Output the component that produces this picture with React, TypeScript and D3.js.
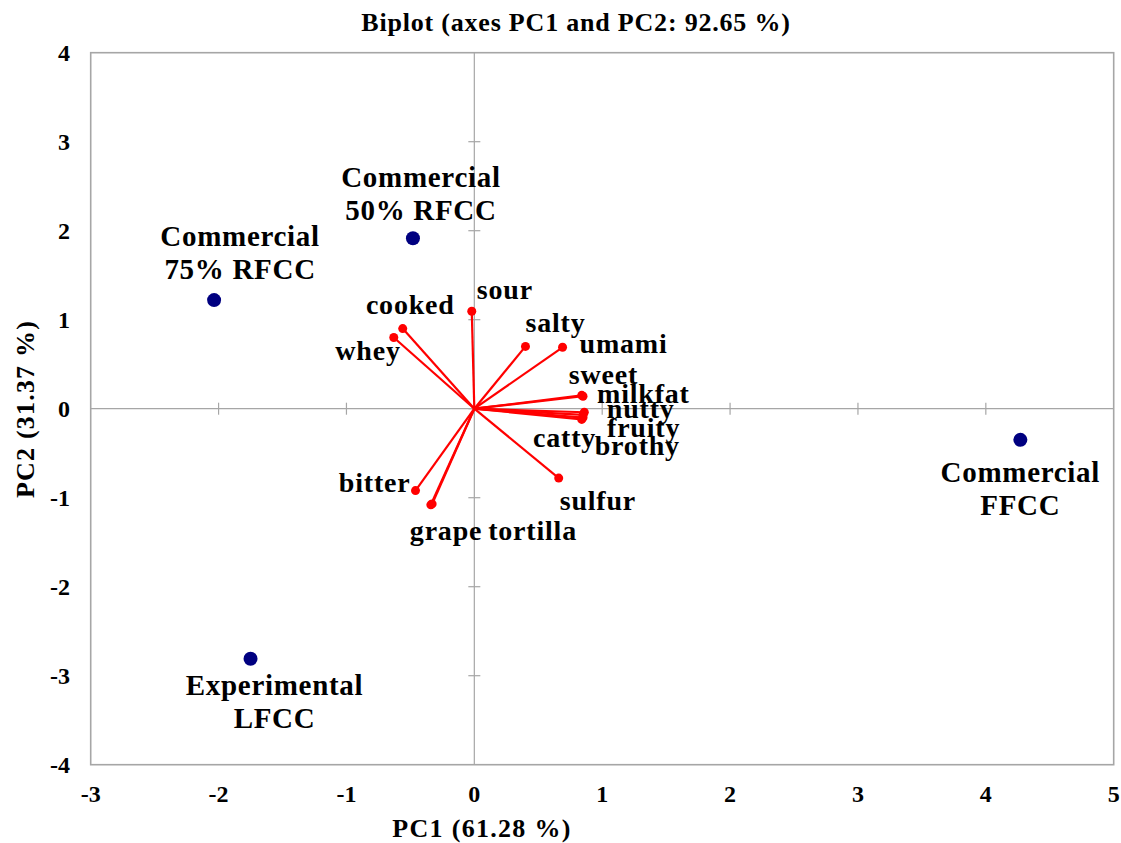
import React from "react";
import * as d3 from "d3";

// ---- data ----
const variableNames = ["sour", "cooked", "whey", "salty", "umami", "sweet", "milkfat", "nutty", "catty", "fruity", "brothy", "sulfur", "bitter", "grape", "tortilla"];
const variablePC1 = [-0.02, -0.56, -0.63, 0.40, 0.69, 0.84, 0.85, 0.86, 0.85, 0.85, 0.84, 0.66, -0.46, -0.34, -0.33];
const variablePC2 = [1.095, 0.90, 0.80, 0.70, 0.69, 0.15, 0.14, -0.04, -0.07, -0.10, -0.12, -0.78, -0.92, -1.08, -1.07];

const observationLines = [["Commercial", "50% RFCC"], ["Commercial", "75% RFCC"], ["Commercial", "FFCC"], ["Experimental", "LFCC"]];
const observationPC1 = [-0.48, -2.035, 4.27, -1.75];
const observationPC2 = [1.915, 1.22, -0.35, -2.81];

const xTicks = [-3, -2, -1, 0, 1, 2, 3, 4, 5];
const yTicks = [-4, -3, -2, -1, 0, 1, 2, 3, 4];

const title = "Biplot (axes PC1 and PC2: 92.65 %)";
const xTitle = "PC1 (61.28 %)";
const yTitle = "PC2 (31.37 %)";

// ---- layout (label placement relative to each mark, in px) ----
const varLabelLayout: Record<string, { dx: number; dy: number; anchor: string }> = {
  sour: { dx: 5, dy: -12, anchor: "start" },
  cooked: { dx: 52, dy: -15, anchor: "end" },
  whey: { dx: 7, dy: 22.5, anchor: "end" },
  salty: { dx: 0, dy: -14.5, anchor: "start" },
  umami: { dx: 17, dy: 5.5, anchor: "start" },
  sweet: { dx: -13, dy: -11, anchor: "start" },
  milkfat: { dx: 14, dy: 6.5, anchor: "start" },
  nutty: { dx: 22.5, dy: 6, anchor: "start" },
  catty: { dx: -50, dy: 32, anchor: "start" },
  fruity: { dx: 24, dy: 19, anchor: "start" },
  brothy: { dx: 13, dy: 35.6, anchor: "start" },
  sulfur: { dx: 1, dy: 32, anchor: "start" },
  bitter: { dx: -5, dy: 1.5, anchor: "end" },
  grape: { dx: -21, dy: 35, anchor: "start" },
  tortilla: { dx: 56, dy: 36, anchor: "start" },
};
const obsLabelLayout = [
  { dx: 8, dy: -51 },
  { dx: 26, dy: -54 },
  { dx: 0, dy: 42 },
  { dx: 24, dy: 36 },
];

const W = 1121;
const H = 843;
const plot = { left: 90.7, right: 1113.7, top: 52.7, bottom: 764.7 };
const FONT = "'Liberation Serif', 'Times New Roman', serif";

export default function App() {
  const x = d3.scaleLinear().domain([-3, 5]).range([plot.left, plot.right]);
  const y = d3.scaleLinear().domain([-4, 4]).range([plot.bottom, plot.top]);
  const gray = "#a6a6a6";
  const x0 = x(0);
  const y0 = y(0);

  return (
    <svg
      width={W}
      height={H}
      style={{ position: "absolute", left: 0, top: 0, background: "#fff" }}
      fontFamily={FONT}
      fontWeight="bold"
    >
      <rect x={0} y={0} width={W} height={H} fill="#fff" />
      {/* plot border */}
      <rect
        x={plot.left}
        y={plot.top}
        width={plot.right - plot.left}
        height={plot.bottom - plot.top}
        fill="none"
        stroke={gray}
        strokeWidth={1.6}
      />
      {/* zero axes */}
      <line x1={plot.left} x2={plot.right} y1={y0} y2={y0} stroke={gray} strokeWidth={1.2} />
      <line x1={x0} x2={x0} y1={plot.top} y2={plot.bottom} stroke={gray} strokeWidth={1.2} />
      {xTicks.filter((t) => t > -3 && t < 5).map((t) => (
        <line key={"xt" + t} x1={x(t)} x2={x(t)} y1={y0 - 6} y2={y0 + 6} stroke={gray} strokeWidth={1.2} />
      ))}
      {yTicks.filter((t) => t > -4 && t < 4).map((t) => (
        <line key={"yt" + t} x1={x0 - 6} x2={x0 + 6} y1={y(t)} y2={y(t)} stroke={gray} strokeWidth={1.2} />
      ))}

      {/* tick labels */}
      {xTicks.map((t) => (
        <text key={"xl" + t} x={x(t)} y={802} textAnchor="middle" fontSize={24}>
          {t < 0 ? "-" + Math.abs(t) : String(t)}
        </text>
      ))}
      {yTicks.map((t) => (
        <text key={"yl" + t} x={70} y={y(t)} dy="0.35em" textAnchor="end" fontSize={24}>
          {t < 0 ? "-" + Math.abs(t) : String(t)}
        </text>
      ))}

      {/* vectors */}
      {variableNames.map((n, i) => (
        <line
          key={"v" + n}
          x1={x0}
          y1={y0}
          x2={x(variablePC1[i])}
          y2={y(variablePC2[i])}
          stroke="#ff0000"
          strokeWidth={2.2}
        />
      ))}
      {variableNames.map((n, i) => (
        <circle key={"vc" + n} cx={x(variablePC1[i])} cy={y(variablePC2[i])} r={4.5} fill="#ff0000" />
      ))}
      {variableNames.map((n, i) => {
        const l = varLabelLayout[n];
        return (
          <text
            key={"vl" + n}
            x={x(variablePC1[i]) + l.dx}
            y={y(variablePC2[i]) + l.dy}
            textAnchor={l.anchor}
            fontSize={28}
            letterSpacing={0.8}
            fill="#000"
          >
            {n}
          </text>
        );
      })}

      {/* observations */}
      {observationPC1.map((v, i) => (
        <circle key={"o" + i} cx={x(v)} cy={y(observationPC2[i])} r={7} fill="#000080" />
      ))}
      {observationLines.map((lines, i) => (
        <text
          key={"ol" + i}
          x={x(observationPC1[i]) + obsLabelLayout[i].dx}
          y={y(observationPC2[i]) + obsLabelLayout[i].dy}
          textAnchor="middle"
          fontSize={29}
          letterSpacing={0.7}
        >
          {lines.map((s, j) => (
            <tspan key={j} x={x(observationPC1[i]) + obsLabelLayout[i].dx} dy={j === 0 ? 0 : 33}>
              {s}
            </tspan>
          ))}
        </text>
      ))}

      {/* titles */}
      <text x={576} y={31} textAnchor="middle" fontSize={26} letterSpacing={0.8}>
        {title}
      </text>
      <text x={482} y={836.5} textAnchor="middle" fontSize={26} letterSpacing={1.3}>
        {xTitle}
      </text>
      <text
        transform={`translate(34, 409) rotate(-90)`}
        textAnchor="middle"
        fontSize={26}
        letterSpacing={1.2}
      >
        {yTitle}
      </text>
    </svg>
  );
}
